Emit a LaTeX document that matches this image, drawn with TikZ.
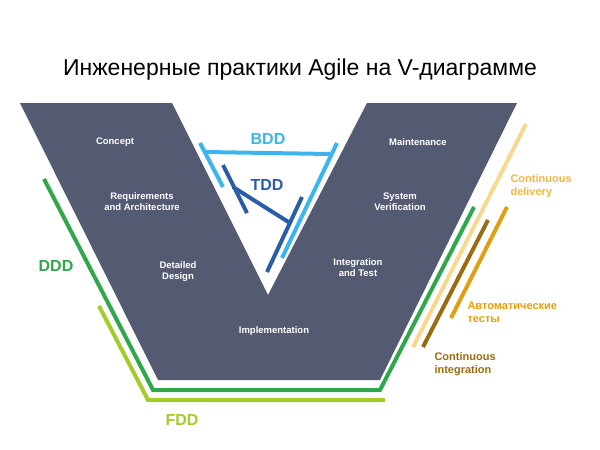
\documentclass[tikz,border=0pt]{standalone}
\usepackage{fontspec}
\setmainfont{Liberation Sans}
\usetikzlibrary{positioning}
\definecolor{vgray}{HTML}{555A73}
\definecolor{dddgreen}{HTML}{2EA84A}
\definecolor{fddlime}{HTML}{A2CC2A}
\definecolor{bddblue}{HTML}{3CB4F0}
\definecolor{tddblue}{HTML}{2A5CA8}
\definecolor{cdyellow}{HTML}{F8D890}
\definecolor{cdtext}{HTML}{F2B840}
\definecolor{atgold}{HTML}{E0A012}
\definecolor{cibrown}{HTML}{9A6C10}

\begin{document}
\begin{tikzpicture}[
		x=1pt, y=-1pt,
		stage/.style={text=white, font=\bfseries\fontsize{9.5}{11}\selectfont, align=center},
		practice/.style={font=\bfseries\fontsize{16}{18}\selectfont},
		sidenote/.style={font=\bfseries\fontsize{11}{13}\selectfont, align=left, anchor=west},
		band/.style={line width=4pt}
		]
		\useasboundingbox (0,0) rectangle (600,450);
		
		% title
		\node[font=\fontsize{23}{26}\selectfont] (title) at (300,70) {Инженерные практики Agile на V-диаграмме};
		
		% the V
		\fill[vgray] (20,103) -- (172,103) -- (268,295) -- (367,103) -- (517,103) -- (380,380) -- (158,380) -- cycle;
		
		% stages
		\node[stage] (concept) at (115,142) {Concept};
		\node[stage] (req) at (142,202) {Requirements\\and Architecture};
		\node[stage] (design) at (178,272) {Detailed\\Design};
		\node[stage] (impl) at (274,331) {Implementation};
		\node[stage] (integ) at (358,268) {Integration\\and Test};
		\node[stage] (verif) at (400,202) {System\\Verification};
		\node[stage] (maint) at (418,142) {Maintenance};
		
		% DDD and FDD
		\coordinate (ddd1) at (44,179);
		\coordinate (ddd2) at (153,390);
		\coordinate (ddd3) at (380,390);
		\coordinate (ddd4) at (474,207);
		\draw[band, dddgreen] (ddd1) -- (ddd2) -- (ddd3) -- (ddd4);
		\node[practice, text=dddgreen] (ddd) at (56,266) {DDD};
		\coordinate (fdd1) at (99,306);
		\coordinate (fdd2) at (148,400);
		\coordinate (fdd3) at (385,400);
		\draw[band, fddlime] (fdd1) -- (fdd2) -- (fdd3);
		\node[practice, text=fddlime] (fdd) at (182,420) {FDD};
		
		% BDD
		\coordinate (bl1) at (200,143);
		\coordinate (bl2) at (223,187);
		\coordinate (bh1) at (205,152);
		\coordinate (bh2) at (330,154);
		\coordinate (br1) at (337,143);
		\coordinate (br2) at (282,258);
		\draw[band, bddblue] (bl1) -- (bl2);
		\draw[band, bddblue] (bh1) -- (bh2);
		\draw[band, bddblue] (br1) -- (br2);
		\node[practice, text=bddblue] (bdd) at (268,139) {BDD};
		
		% TDD
		\coordinate (tl1) at (223,165);
		\coordinate (tl2) at (247,213);
		\coordinate (tm1) at (233,187);
		\coordinate (tm2) at (290,223);
		\coordinate (tr1) at (302,197);
		\coordinate (tr2) at (267,272);
		\draw[band, tddblue] (tl1) -- (tl2);
		\draw[band, tddblue] (tm1) -- (tm2);
		\draw[band, tddblue] (tr1) -- (tr2);
		\node[practice, text=tddblue] (tdd) at (267,185) {TDD};
		
		% delivery side
		\coordinate (cd1) at (526,124);
		\coordinate (cd2) at (413,347);
		\coordinate (ci1) at (488,220);
		\coordinate (ci2) at (423,347);
		\coordinate (at1) at (507,207);
		\coordinate (at2) at (451,318);
		\draw[band, cdyellow] (cd1) -- (cd2);
		\draw[band, cibrown] (ci1) -- (ci2);
		\draw[band, atgold] (at1) -- (at2);
		\node[sidenote, text=cdtext] (cd) at (507,186) {Continuous\\delivery};
		\node[sidenote, text=atgold] (at) at (464,312) {Автоматические\\тесты};
		\node[sidenote, text=cibrown] (ci) at (431,364) {Continuous\\integration};
		
	\end{tikzpicture}
\end{document}
